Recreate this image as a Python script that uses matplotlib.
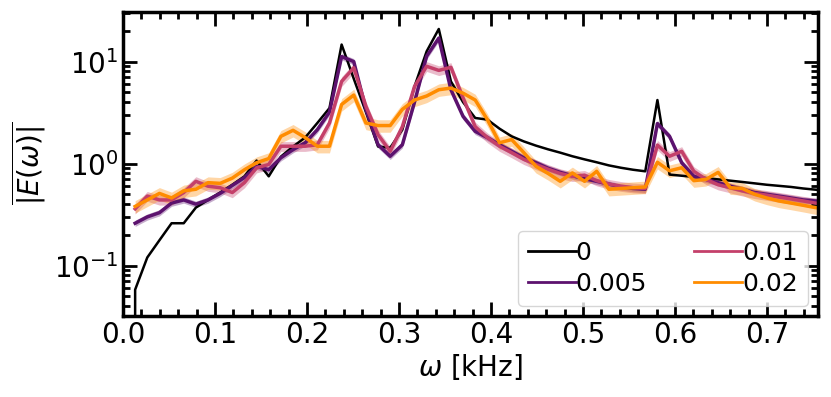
import numpy as np
import matplotlib
matplotlib.use("Agg")
import matplotlib.pyplot as plt

# frequency grid (kHz)
omega = [0.0, 0.0132, 0.0264, 0.0396, 0.0528, 0.066, 0.0792, 0.0924, 0.1056, 0.1188,
         0.132, 0.1452, 0.1584, 0.1716, 0.1848, 0.198, 0.2112, 0.2244, 0.2376, 0.2508,
         0.264, 0.2772, 0.2904, 0.3036, 0.3168, 0.33, 0.3432, 0.3564, 0.3696, 0.3828,
         0.396, 0.4092, 0.4224, 0.4356, 0.4488, 0.462, 0.4752, 0.4884, 0.5016, 0.5148,
         0.528, 0.5412, 0.5544, 0.5676, 0.5808, 0.594, 0.6072, 0.6204, 0.6336, 0.6468,
         0.66, 0.6732, 0.6864, 0.6996, 0.7128, 0.726, 0.7392, 0.7524, 0.7656]

E_0 = [0.0, 0.058, 0.12, 0.177, 0.26, 0.26, 0.37, 0.44, 0.52, 0.62,
       0.75, 1.07, 0.75, 1.17, 1.47, 1.8, 2.5, 3.5, 14.7, 6.8,
       3.2, 1.47, 1.43, 2.15, 5.7, 12.6, 20.9, 6.4, 4.0, 2.8,
       2.7, 2.2, 1.85, 1.65, 1.5, 1.38, 1.28, 1.18, 1.1, 1.03,
       0.96, 0.91, 0.87, 0.84, 4.2, 0.78, 0.76, 0.74, 0.72, 0.70,
       0.68, 0.66, 0.64, 0.62, 0.605, 0.59, 0.57, 0.555, 0.54]

E_005 = [0.26, 0.30, 0.33, 0.41, 0.44, 0.40, 0.44, 0.51, 0.61, 0.73,
         0.94, 0.87, 1.14, 1.37, 1.6, 2.15, 3.2, 11.2, 10.0, 3.4,
         1.53, 1.18, 1.53, 4.0, 11.3, 17.0, 5.3, 2.9, 2.07, 1.8,
         1.53, 1.32, 1.14, 1.02, 0.9, 0.82, 0.76, 0.71, 0.67, 0.63,
         0.59, 0.57, 0.56, 2.47, 1.85, 1.02, 0.75, 0.70, 0.65, 0.60,
         0.56, 0.52, 0.50, 0.48, 0.46, 0.44, 0.43, 0.42]

E_01 = [0.36, 0.48, 0.44, 0.44, 0.52, 0.67, 0.60, 0.58, 0.52, 0.65,
        0.91, 0.98, 1.48, 1.48, 1.48, 1.53, 2.5, 6.4, 8.7, 3.65,
        1.92, 1.32, 2.3, 5.7, 9.0, 8.2, 8.8, 4.4, 2.3, 1.8,
        1.48, 1.28, 1.1, 0.98, 0.88, 0.80, 0.75, 0.77, 0.68, 0.63,
        0.60, 0.58, 0.57, 1.52, 1.18, 1.32, 0.84, 0.70, 0.62, 0.58,
        0.54, 0.51, 0.49, 0.47, 0.45, 0.43, 0.41, 0.40]

E_02 = [0.38, 0.44, 0.51, 0.46, 0.54, 0.56, 0.65, 0.64, 0.72, 0.87,
        1.02, 1.12, 1.85, 2.12, 1.8, 1.48, 1.48, 3.8, 4.7, 2.5,
        2.36, 2.36, 3.4, 4.2, 4.6, 5.3, 5.5, 4.9, 4.2, 2.7,
        1.6, 1.72, 1.28, 0.94, 0.80, 0.67, 0.81, 0.67, 0.84, 0.56,
        0.57, 0.58, 0.59, 1.03, 0.85, 0.91, 0.68, 0.70, 0.82, 0.58,
        0.57, 0.50, 0.46, 0.43, 0.41, 0.39, 0.37, 0.36]

# relative spread of the shaded bands
err_005 = 0.07
err_01 = 0.11
err_02 = 0.14

labels = ["0", "0.005", "0.01", "0.02"]
colors = ["black", "#5c126e", "#c4406a", "#ff8c00"]

plt.rcParams["font.size"] = 20
plt.rcParams["mathtext.fontset"] = "dejavusans"

fig = plt.figure(figsize=(8.31, 3.97), dpi=100)
ax = fig.add_axes([0.148, 0.204, 0.836, 0.767])

w = np.array(omega)
ax.plot(w, E_0, color=colors[0], lw=1.8, label=labels[0])
series = [(E_005, err_005), (E_01, err_01), (E_02, err_02)]
for i, (vals, err) in enumerate(series):
    v = np.array(vals)
    x = w[1:len(v) + 1]
    ax.fill_between(x, v * (1 - err), v * (1 + err), color=colors[i + 1], alpha=0.35, lw=0)
    ax.plot(x, v, color=colors[i + 1], lw=2.5, label=labels[i + 1])

ax.set_yscale("log")
ax.set_xlim(0, 0.755)
ax.set_ylim(0.032, 31)
ax.set_xticks([0.0, 0.1, 0.2, 0.3, 0.4, 0.5, 0.6, 0.7])
ax.xaxis.set_minor_locator(matplotlib.ticker.MultipleLocator(0.02))
ax.tick_params(which="both", direction="in", top=True, right=True, width=2)
ax.tick_params(which="major", length=10)
ax.tick_params(which="minor", length=5)
for s in ax.spines.values():
    s.set_linewidth(2.5)

ax.set_xlabel(r"$\omega$ [kHz]", labelpad=2)
ax.set_ylabel(r"$\overline{|E(\omega)|}$")

handles, labs = ax.get_legend_handles_labels()
leg = ax.legend(handles, labs, ncol=2, loc="lower right", fontsize=18,
                handlelength=1.9, handletextpad=0.0, columnspacing=1.9,
                borderpad=0.4, labelspacing=0.3, borderaxespad=0.4)
for h in leg.get_lines():
    h.set_linewidth(2)

fig.savefig("out.png", dpi=100)
